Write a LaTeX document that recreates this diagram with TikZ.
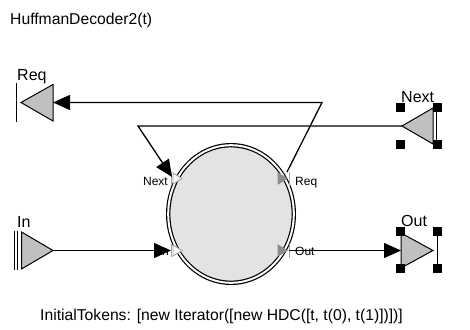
\documentclass[tikz,border=0pt]{standalone}
\usepackage{fontspec}
\setmainfont{Liberation Sans}
\usetikzlibrary{arrows.meta,shapes.geometric}
\definecolor{portfill}{HTML}{C0C0C0}
\definecolor{actorfill}{HTML}{E3E3E3}
\definecolor{pinfill}{HTML}{8C8C8C}
\definecolor{pinline}{HTML}{A6A6A6}
\tikzset{
  wire/.style={line width=1.3pt, draw=black},
  flowarrow/.style={wire, -{Triangle[length=17pt,width=15pt]}},
  extport/.style={draw=black, line width=1pt, fill=portfill, line join=miter},
  portbar/.style={draw=black, line width=1pt},
  handle/.style={fill=black, draw=none, minimum size=9pt, inner sep=0pt, shape=rectangle},
  extlabel/.style={font=\fontsize{16}{16}\selectfont, inner sep=0pt, anchor=base west},
  pinlabel/.style={font=\fontsize{12}{12}\selectfont, inner sep=0pt},
  caption/.style={font=\fontsize{15.7}{16}\selectfont, inner sep=0pt, anchor=base west},
  actor/.style={ellipse, draw=black, line width=1.2pt, double=white, double distance=2pt,
    fill=actorfill, minimum width=125.6pt, minimum height=137.6pt, inner sep=0pt},
  inpin/.pic={
    \draw[pinline, line width=1pt] (-3,-6.5) -- (-3,6.5);
    \draw[pinline, line width=0.9pt, fill=white!85!actorfill] (-1,-5.5) -- (8,0) -- (-1,5.5) -- cycle;
  },
  outpin/.pic={
    \draw[pinfill, line width=0.9pt, fill=pinfill] (-5,-5.5) -- (4,0) -- (-5,5.5) -- cycle;
    \draw[pinline, line width=1pt] (6,-7) -- (6,7);
  }
}
\begin{document}
\begin{tikzpicture}[x=1pt,y=-1pt, line join=miter]
\useasboundingbox (0,0) rectangle (470,329);

% titles
\node[caption] (title) at (10,25) {HuffmanDecoder2(t)};
\node[caption] (tokens) at (40,320) {InitialTokens: [new Iterator([new HDC([t, t(0), t(1)])])]};

% the composite actor
\node[actor] (actor) at (231,214) {};

% pins on the actor
\pic at (174,178.5) {inpin};
\pic at (174,250.5) {inpin};
\pic at (283,178.5) {outpin};
\pic at (283,250.5) {outpin};
\node[pinlabel, anchor=base east] (lNext) at (168,185) {Next};
\node[pinlabel, anchor=base east] (lIn) at (169,255) {In};
\node[pinlabel, anchor=base west] (lReq) at (295,185) {Req};
\node[pinlabel, anchor=base west] (lOut) at (295,255) {Out};

% external ports
\draw[extport] (53,84.5) -- (21,102.5) -- (53,121) -- cycle;
\draw[portbar] (16,83) -- (16,122);
\node[extlabel] (xReq) at (17,80) {Req};

\draw[extport] (433,108) -- (402,126) -- (433,144) -- cycle;
\draw[portbar] (436.8,108) -- (436.8,144);
\node[extlabel] (xNext) at (401,102) {Next};

\draw[extport] (21.5,232) -- (53,250.5) -- (21.5,269) -- cycle;
\draw[portbar] (14.8,231) -- (14.8,269.5);
\draw[portbar] (17.8,231) -- (17.8,269.5);
\node[extlabel] (xIn) at (17,227) {In};

\draw[extport] (401,233) -- (433,250.5) -- (401,268) -- cycle;
\draw[portbar] (437,232) -- (437,269);
\node[extlabel] (xOut) at (401,226) {Out};

% connection points
\coordinate (reqExt) at (53,102.5);
\coordinate (nextExt) at (402,126);
\coordinate (inExt) at (53,250.5);
\coordinate (outExt) at (401,250.5);
\coordinate (nextPin) at (172,177);
\coordinate (inPin) at (171,250.5);
\coordinate (reqPin) at (287,172);
\coordinate (outPin) at (289,250.5);
\coordinate (bendA) at (322,102.5);
\coordinate (bendB) at (138,126);

% connectors
\draw[flowarrow] (reqPin) -- (bendA) -- (reqExt);
\draw[flowarrow] (nextExt) -- (bendB) -- (nextPin);
\draw[flowarrow] (inExt) -- (inPin);
\draw[flowarrow] (outPin) -- (outExt);

% selection handles
\foreach \hx/\hy [count=\i] in {400/107.5, 437/107.5, 400/144, 437/144} {
  \node[handle] (hn\i) at (\hx,\hy) {};
}
\foreach \hx/\hy [count=\i] in {400/231.5, 437/231.5, 400/268.5, 437/268.5} {
  \node[handle] (ho\i) at (\hx,\hy) {};
}
\end{tikzpicture}
\end{document}
